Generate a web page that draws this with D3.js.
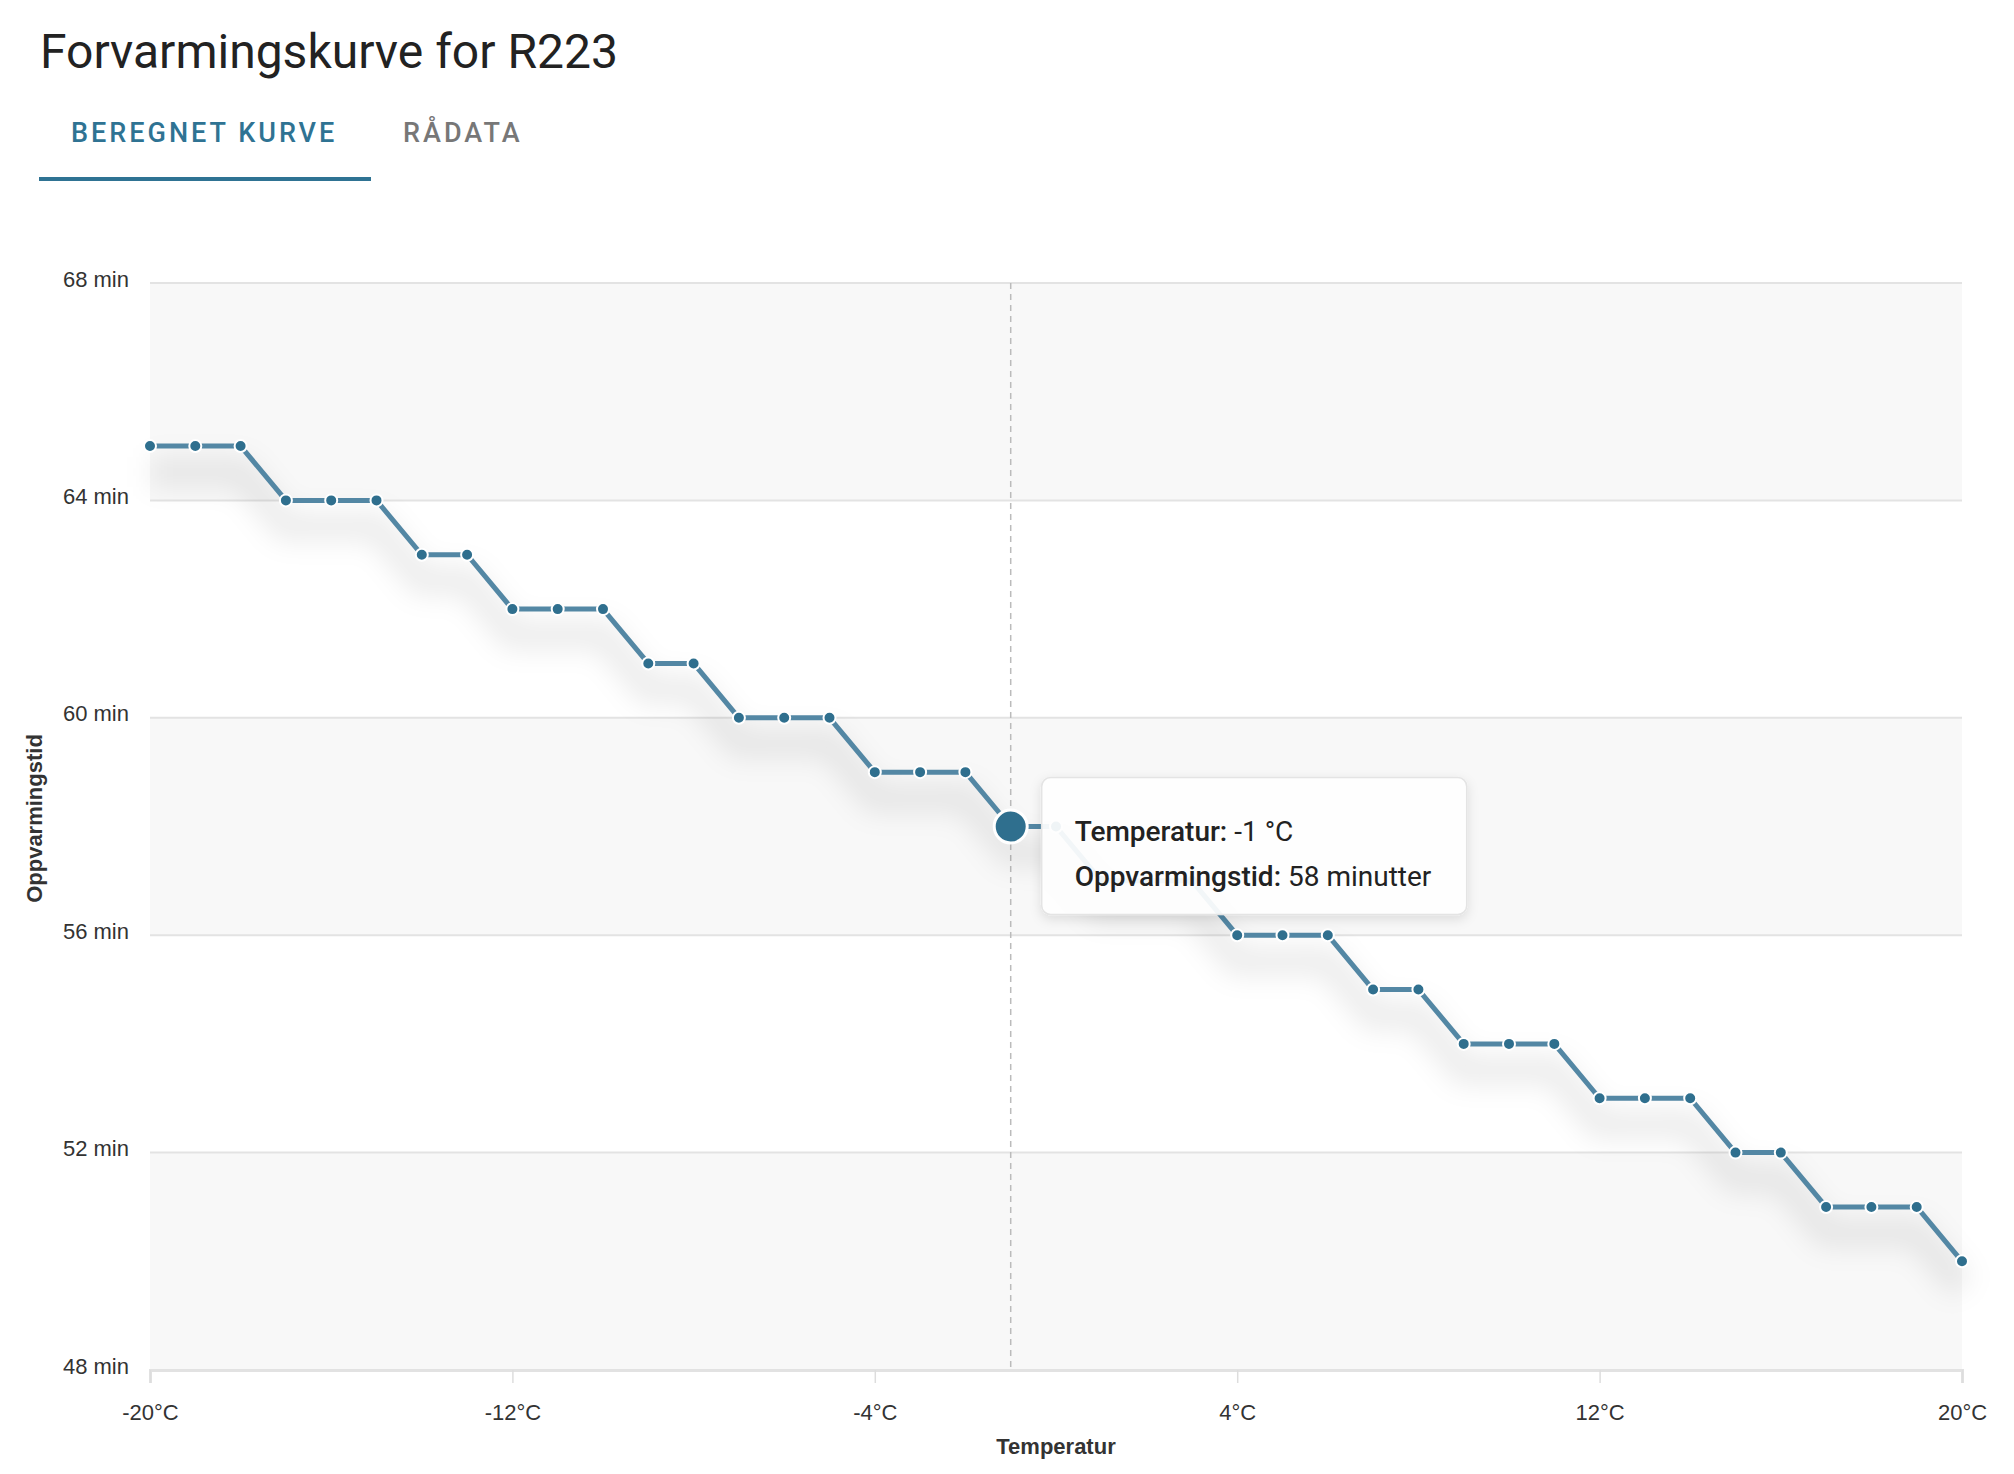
<!DOCTYPE html>
<html>
<head>
<meta charset="utf-8">
<script src="https://cdn.jsdelivr.net/npm/d3@7"></script>
<style>
  body { margin: 0; background: #fff; }
  svg { display: block; }
</style>
</head>
<body>
<div id="chart"></div>
<script>
// DATA
const temperatures = [-20, -19, -18, -17, -16, -15, -14, -13, -12, -11, -10, -9, -8, -7, -6, -5, -4, -3, -2, -1,
  0, 1, 2, 3, 4, 5, 6, 7, 8, 9, 10, 11, 12, 13, 14, 15, 16, 17, 18, 19, 20];
const minutes = [65, 65, 65, 64, 64, 64, 63, 63, 62, 62, 62, 61, 61, 60, 60, 60, 59, 59, 59, 58,
  58, 57, 57, 57, 56, 56, 56, 55, 55, 54, 54, 54, 53, 53, 53, 52, 52, 51, 51, 51, 50];
const xTicks = [-20, -12, -4, 4, 12, 20];
const yTicks = [48, 52, 56, 60, 64, 68];
const selectedTemp = -1;

const title = "Forvarmingskurve for R223";
const tabs = ["BEREGNET KURVE", "RÅDATA"];

// CONST and GLOBALS
const width = 2014, height = 1474;
const margin = { top: 283, bottom: 104, left: 150, right: 52 };
const blue = "#2f6f8e", lineBlue = "#5387a4";

const data = temperatures.map((t, i) => ({ temp: t, min: minutes[i] }));

const svg = d3.select("#chart").append("svg")
  .attr("width", width)
  .attr("height", height);

const defs = svg.append("defs");
defs.append("filter").attr("id", "blur")
  .attr("x", "-10%").attr("y", "-30%").attr("width", "120%").attr("height", "160%")
  .append("feGaussianBlur").attr("stdDeviation", 13);
const tipShadow = defs.append("filter").attr("id", "tipshadow")
  .attr("x", "-20%").attr("y", "-20%").attr("width", "140%").attr("height", "160%");
tipShadow.append("feDropShadow").attr("dx", 0).attr("dy", 4).attr("stdDeviation", 6)
  .attr("flood-color", "#000").attr("flood-opacity", 0.12);

// title + tabs
svg.append("text")
  .attr("x", 40).attr("y", 68)
  .attr("font-family", "Roboto").attr("font-size", 48)
  .attr("fill", "#222")
  .text(title);

svg.selectAll(".tab")
  .data(tabs)
  .join("text")
  .attr("class", "tab")
  .attr("x", (d, i) => i === 0 ? 71 : 403)
  .attr("y", 142)
  .attr("font-family", "Roboto").attr("font-weight", 500).attr("font-size", 27)
  .attr("letter-spacing", 3)
  .attr("fill", (d, i) => i === 0 ? "#2f7393" : "#777")
  .text(d => d);

svg.append("rect")
  .attr("x", 39).attr("y", 177).attr("width", 332).attr("height", 4)
  .attr("fill", "#2f7393");

// SCALES
const xScale = d3.scaleLinear()
  .domain([-20, 20])
  .range([margin.left, width - margin.right]);

const yScale = d3.scaleLinear()
  .domain([48, 68])
  .range([height - margin.bottom, margin.top]);

// background bands
const bands = d3.pairs(yTicks);
svg.append("g").selectAll("rect")
  .data(bands)
  .join("rect")
  .attr("x", xScale(-20))
  .attr("width", xScale(20) - xScale(-20))
  .attr("y", d => yScale(d[1]))
  .attr("height", d => yScale(d[0]) - yScale(d[1]))
  .attr("fill", (d, i) => i % 2 === 0 ? "#f8f8f8" : "#fff");

// gridlines
svg.append("g").selectAll("line")
  .data(yTicks.slice(1))
  .join("line")
  .attr("x1", xScale(-20)).attr("x2", xScale(20))
  .attr("y1", d => yScale(d)).attr("y2", d => yScale(d))
  .attr("stroke", "#e3e3e3").attr("stroke-width", 2);

// AXES
const xAxis = d3.axisBottom(xScale)
  .tickValues(xTicks)
  .tickSize(13)
  .tickPadding(21)
  .tickFormat(d => d + "°C");

const xg = svg.append("g")
  .attr("transform", `translate(0,${yScale(48)})`)
  .call(xAxis);
xg.select(".domain").attr("stroke", "#e2e2e2").attr("stroke-width", 3);
xg.selectAll(".tick line").attr("stroke", "#ddd").attr("stroke-width", 1.5);
xg.selectAll(".tick text")
  .attr("font-family", "Liberation Sans, Arial").attr("font-size", 22)
  .attr("fill", "#333");

const yAxis = d3.axisLeft(yScale)
  .tickValues(yTicks)
  .tickSize(0)
  .tickPadding(21)
  .tickFormat(d => d + " min");

const yg = svg.append("g")
  .attr("transform", `translate(${margin.left},0)`)
  .call(yAxis);
yg.select(".domain").remove();
yg.selectAll(".tick text")
  .attr("y", -4)
  .attr("font-family", "Liberation Sans, Arial").attr("font-size", 22)
  .attr("fill", "#333");

svg.append("text")
  .attr("x", (xScale(-20) + xScale(20)) / 2)
  .attr("y", 1454)
  .attr("text-anchor", "middle")
  .attr("font-family", "Liberation Sans, Arial").attr("font-weight", "bold").attr("font-size", 22)
  .attr("fill", "#333")
  .text("Temperatur");

svg.append("text")
  .attr("transform", `translate(42,${(yScale(48) + yScale(68)) / 2 - 8}) rotate(-90)`)
  .attr("text-anchor", "middle")
  .attr("font-family", "Liberation Sans, Arial").attr("font-weight", "bold").attr("font-size", 22)
  .attr("fill", "#333")
  .text("Oppvarmingstid");

// crosshair
svg.append("line")
  .attr("x1", xScale(selectedTemp)).attr("x2", xScale(selectedTemp))
  .attr("y1", yScale(68)).attr("y2", yScale(48))
  .attr("stroke", "#bbb").attr("stroke-width", 1.5)
  .attr("stroke-dasharray", "6,5");

// line + shadow
const line = d3.line()
  .x(d => xScale(d.temp))
  .y(d => yScale(d.min));

svg.append("path")
  .datum(data)
  .attr("d", line)
  .attr("transform", "translate(0,26)")
  .attr("fill", "none")
  .attr("stroke", "#000").attr("stroke-opacity", 0.07)
  .attr("stroke-width", 30)
  .attr("filter", "url(#blur)");

svg.append("path")
  .datum(data)
  .attr("d", line)
  .attr("fill", "none")
  .attr("stroke", lineBlue)
  .attr("stroke-width", 5)
  .attr("stroke-linejoin", "round");

svg.append("g").selectAll("circle")
  .data(data)
  .join("circle")
  .attr("cx", d => xScale(d.temp))
  .attr("cy", d => yScale(d.min))
  .attr("r", d => d.temp === selectedTemp ? 16.5 : 6)
  .attr("fill", blue)
  .attr("stroke", "#fff")
  .attr("stroke-width", d => d.temp === selectedTemp ? 3 : 2);

// tooltip
const sel = data.find(d => d.temp === selectedTemp);
const tip = svg.append("g")
  .attr("transform", `translate(${xScale(sel.temp) + 31},${yScale(sel.min) - 49})`);
tip.append("rect")
  .attr("width", 425).attr("height", 137)
  .attr("rx", 9)
  .attr("fill", "#fff").attr("fill-opacity", 0.92)
  .attr("stroke", "#e4e4e4").attr("stroke-width", 1.5)
  .attr("filter", "url(#tipshadow)");

const tipLines = [
  ["Temperatur:", ` ${sel.temp} °C`],
  ["Oppvarmingstid:", ` ${sel.min} minutter`]
];
tip.selectAll("text")
  .data(tipLines)
  .join("text")
  .attr("x", 33)
  .attr("y", (d, i) => 63 + i * 45)
  .attr("font-family", "Roboto").attr("font-size", 28)
  .attr("fill", "#222")
  .each(function (d) {
    const t = d3.select(this);
    t.append("tspan").attr("font-weight", 500).text(d[0]);
    t.append("tspan").text(d[1]);
  });
</script>
</body>
</html>
